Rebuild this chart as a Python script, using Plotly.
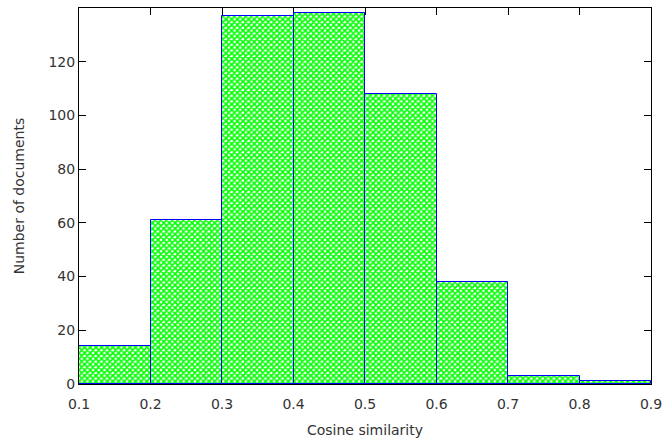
import plotly.graph_objects as go

bin_starts = [0.1, 0.2, 0.3, 0.4, 0.5, 0.6, 0.7, 0.8]
counts = [14, 61, 137, 138, 108, 38, 3, 1]
bin_width = 0.1
x_ticks = [0.1, 0.2, 0.3, 0.4, 0.5, 0.6, 0.7, 0.8, 0.9]
y_ticks = [0, 20, 40, 60, 80, 100, 120, 140]

centers = [s + bin_width / 2 for s in bin_starts]
FONT = dict(family="DejaVu Sans", size=14, color="#333")

fig = go.Figure()
fig.add_trace(go.Bar(
    x=centers, y=counts, width=bin_width,
    marker=dict(
        color="white",
        line=dict(color="#0000ff", width=1),
        pattern=dict(shape="x", fgcolor="#00ff00", bgcolor="white", size=4, solidity=0.65, fillmode="replace"),
    ),
    showlegend=False, hoverinfo="skip",
))

axis_common = dict(
    showline=True, linecolor="black", linewidth=1, mirror="ticks",
    ticks="inside", ticklen=7, tickcolor="black", showgrid=False, zeroline=False,
    tickfont=FONT, automargin=False, layer="below traces",
)
fig.update_xaxes(range=[0.1, 0.9], tickvals=x_ticks, ticktext=[f"{v:.1f}" for v in x_ticks],
                 ticklabelstandoff=7,
                 title=dict(text="Cosine similarity", font=FONT, standoff=14),
                 **axis_common)
fig.update_yaxes(range=[0, 140], tickvals=y_ticks,
                 title=dict(text="Number of documents", font=FONT, standoff=20),
                 **axis_common)
fig.update_layout(
    width=664, height=444,
    margin=dict(l=79, r=13, t=8, b=60),
    plot_bgcolor="white", paper_bgcolor="white",
    bargap=0,
)
fig.write_html(
    "out.html", config={"displayModeBar": False},
    post_script="document.documentElement.style.margin='0';document.body.style.margin='0';"
                "document.body.style.overflow='hidden';window.scrollTo(0,0);",
)
